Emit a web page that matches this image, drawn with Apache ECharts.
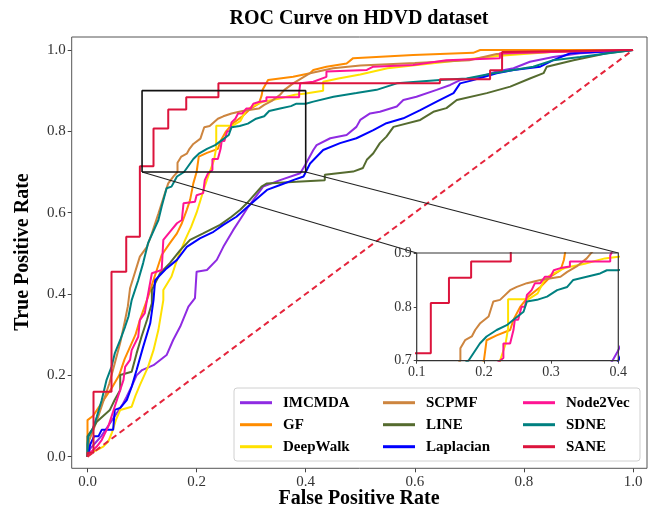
<!DOCTYPE html>
<html><head><meta charset="utf-8">
<script src="https://cdn.jsdelivr.net/npm/echarts@6/dist/echarts.min.js"></script>
<style>html,body{margin:0;padding:0;background:#fff}#c{width:656px;height:516px}</style>
</head><body><div id="c"></div>
<script>
// ---------- data ----------
const seriesNames = ['IMCMDA','GF','DeepWalk','SCPMF','LINE','Laplacian','Node2Vec','SDNE','SANE'];
const insetXRange = [0.1, 0.4];
const insetYRange = [0.7, 0.9];
const chanceLine = [[0,0],[1,1]];

const IMCMDA = [[0,0],[0.005,0.02],[0.015,0.035],[0.025,0.05],[0.035,0.07],[0.045,0.09],[0.055,0.11],[0.065,0.13],[0.072,0.148],[0.08,0.17],[0.09,0.2],[0.1,0.213],[0.121,0.225],[0.145,0.25],[0.157,0.287],[0.17,0.32],[0.185,0.369],[0.197,0.39],[0.2,0.455],[0.219,0.459],[0.237,0.484],[0.249,0.516],[0.267,0.557],[0.283,0.59],[0.295,0.615],[0.322,0.664],[0.353,0.68],[0.39,0.697],[0.399,0.717],[0.414,0.754],[0.42,0.766],[0.445,0.783],[0.475,0.791],[0.493,0.811],[0.5,0.828],[0.518,0.844],[0.536,0.848],[0.567,0.861],[0.579,0.877],[0.603,0.885],[0.64,0.902],[0.665,0.914],[0.683,0.926],[0.72,0.934],[0.75,0.947],[0.781,0.955],[0.811,0.971],[0.854,0.983],[0.903,0.992],[1,1]];
const GF = [[0,0],[0,0.09],[0.01,0.1],[0.02,0.12],[0.03,0.14],[0.045,0.17],[0.058,0.2],[0.068,0.24],[0.078,0.27],[0.088,0.3],[0.096,0.336],[0.111,0.393],[0.127,0.459],[0.136,0.496],[0.151,0.525],[0.164,0.549],[0.173,0.574],[0.182,0.607],[0.188,0.631],[0.194,0.672],[0.2,0.7],[0.204,0.738],[0.219,0.747],[0.239,0.757],[0.244,0.776],[0.254,0.8],[0.266,0.819],[0.284,0.837],[0.299,0.856],[0.314,0.868],[0.319,0.887],[0.321,0.902],[0.331,0.926],[0.377,0.934],[0.408,0.943],[0.414,0.951],[0.438,0.959],[0.475,0.967],[0.487,0.98],[0.597,0.988],[0.707,0.993],[0.72,1],[1,1]];
const DeepWalk = [[0,0],[0.005,0.01],[0.015,0.015],[0.029,0.025],[0.038,0.037],[0.045,0.06],[0.052,0.09],[0.06,0.115],[0.081,0.123],[0.088,0.15],[0.096,0.176],[0.111,0.221],[0.121,0.262],[0.13,0.312],[0.139,0.385],[0.139,0.41],[0.154,0.443],[0.164,0.484],[0.179,0.533],[0.19,0.565],[0.2,0.6],[0.208,0.635],[0.215,0.665],[0.224,0.7],[0.232,0.73],[0.236,0.76],[0.236,0.814],[0.266,0.814],[0.28,0.825],[0.29,0.85],[0.3,0.86],[0.32,0.872],[0.35,0.88],[0.38,0.89],[0.4,0.893],[0.432,0.9],[0.432,0.922],[0.46,0.93],[0.5,0.94],[0.55,0.955],[0.65,0.97],[0.75,0.985],[0.85,0.995],[1,1]];
const SCPMF = [[0,0],[0.003,0.04],[0.012,0.07],[0.02,0.1],[0.03,0.14],[0.04,0.18],[0.05,0.23],[0.06,0.28],[0.068,0.33],[0.074,0.37],[0.078,0.414],[0.096,0.492],[0.109,0.516],[0.118,0.549],[0.13,0.598],[0.142,0.648],[0.148,0.672],[0.158,0.69],[0.165,0.7],[0.165,0.723],[0.172,0.738],[0.182,0.745],[0.187,0.757],[0.194,0.769],[0.207,0.782],[0.214,0.81],[0.224,0.813],[0.239,0.831],[0.249,0.837],[0.264,0.844],[0.284,0.85],[0.314,0.856],[0.324,0.865],[0.338,0.875],[0.353,0.89],[0.361,0.902],[0.377,0.918],[0.408,0.943],[0.45,0.955],[0.5,0.962],[0.6,0.968],[0.7,0.975],[0.75,0.99],[0.85,0.995],[1,1]];
const LINE = [[0,0],[0,0.05],[0.01,0.07],[0.017,0.086],[0.041,0.115],[0.05,0.14],[0.06,0.164],[0.06,0.201],[0.081,0.209],[0.09,0.254],[0.099,0.295],[0.109,0.336],[0.118,0.377],[0.118,0.41],[0.133,0.451],[0.151,0.476],[0.17,0.508],[0.188,0.533],[0.212,0.549],[0.243,0.57],[0.264,0.59],[0.28,0.607],[0.292,0.623],[0.319,0.664],[0.329,0.672],[0.383,0.676],[0.435,0.68],[0.435,0.693],[0.487,0.701],[0.505,0.71],[0.512,0.73],[0.524,0.746],[0.536,0.771],[0.548,0.787],[0.561,0.811],[0.61,0.828],[0.634,0.848],[0.658,0.857],[0.677,0.877],[0.732,0.894],[0.775,0.91],[0.811,0.93],[0.836,0.943],[0.842,0.959],[0.891,0.975],[0.952,0.992],[1,1]];
const Laplacian = [[0,0],[0.005,0.03],[0.012,0.05],[0.02,0.05],[0.026,0.066],[0.047,0.066],[0.05,0.115],[0.06,0.12],[0.072,0.139],[0.081,0.172],[0.09,0.213],[0.102,0.27],[0.115,0.328],[0.121,0.385],[0.124,0.434],[0.145,0.463],[0.164,0.484],[0.182,0.516],[0.206,0.537],[0.231,0.553],[0.249,0.57],[0.273,0.59],[0.304,0.627],[0.329,0.656],[0.353,0.668],[0.377,0.68],[0.396,0.689],[0.408,0.721],[0.432,0.754],[0.463,0.771],[0.493,0.783],[0.524,0.803],[0.548,0.82],[0.579,0.832],[0.61,0.852],[0.64,0.873],[0.671,0.894],[0.683,0.918],[0.707,0.926],[0.75,0.943],[0.781,0.951],[0.83,0.959],[0.854,0.975],[0.885,0.992],[1,1]];
const Node2Vec = [[0,0],[0.005,0.01],[0.017,0.025],[0.026,0.041],[0.038,0.074],[0.047,0.111],[0.056,0.148],[0.066,0.189],[0.069,0.221],[0.078,0.238],[0.081,0.262],[0.093,0.295],[0.096,0.336],[0.105,0.353],[0.109,0.385],[0.118,0.451],[0.136,0.459],[0.139,0.533],[0.151,0.553],[0.164,0.574],[0.173,0.582],[0.176,0.623],[0.197,0.627],[0.2,0.643],[0.212,0.648],[0.215,0.68],[0.221,0.697],[0.229,0.705],[0.229,0.732],[0.239,0.732],[0.244,0.757],[0.246,0.776],[0.251,0.776],[0.256,0.8],[0.261,0.8],[0.264,0.822],[0.271,0.831],[0.276,0.844],[0.284,0.844],[0.291,0.856],[0.299,0.856],[0.304,0.868],[0.314,0.872],[0.328,0.875],[0.328,0.884],[0.388,0.884],[0.388,0.896],[0.39,0.9],[0.39,0.918],[0.414,0.922],[0.438,0.934],[0.438,0.947],[0.512,0.951],[0.524,0.959],[0.597,0.963],[0.658,0.975],[0.756,0.98],[0.756,0.992],[1,1]];
const SDNE = [[0,0],[0,0.03],[0.0015,0.049],[0.01,0.07],[0.017,0.098],[0.026,0.139],[0.035,0.189],[0.044,0.221],[0.05,0.254],[0.06,0.287],[0.069,0.32],[0.075,0.344],[0.081,0.385],[0.093,0.434],[0.102,0.476],[0.111,0.525],[0.13,0.582],[0.136,0.615],[0.145,0.66],[0.154,0.664],[0.164,0.689],[0.177,0.7],[0.194,0.732],[0.204,0.745],[0.219,0.757],[0.234,0.766],[0.244,0.776],[0.259,0.791],[0.264,0.81],[0.279,0.813],[0.294,0.819],[0.309,0.831],[0.324,0.837],[0.333,0.85],[0.353,0.856],[0.373,0.862],[0.383,0.868],[0.4,0.868],[0.414,0.873],[0.451,0.885],[0.493,0.894],[0.53,0.902],[0.567,0.918],[0.646,0.926],[0.695,0.93],[0.744,0.943],[0.817,0.959],[0.854,0.975],[0.903,0.983],[1,1]];
const SANE = [[0,0],[0,0.01],[0.011,0.01],[0.011,0.16],[0.044,0.16],[0.044,0.455],[0.071,0.455],[0.071,0.541],[0.096,0.541],[0.096,0.714],[0.121,0.714],[0.121,0.807],[0.148,0.807],[0.148,0.854],[0.181,0.854],[0.181,0.884],[0.24,0.884],[0.24,0.918],[0.646,0.918],[0.646,0.928],[0.738,0.928],[0.738,0.95],[0.76,0.95],[0.76,0.995],[1,1]];

const curves = {IMCMDA, GF, DeepWalk, SCPMF, LINE, Laplacian, Node2Vec, SDNE, SANE};

// ---------- styles / layout ----------
const colors = ['#8f2be2','#ff8c00','#ffe100','#cd853f','#556b2f','#0000ff','#ff1493','#008080','#dc143c'];
const SERIF = '"Liberation Serif","Times New Roman",serif';
const G0 = {left:87.5, top:50, right:23, bottom:59.3};
const FRAME = {x:71.7, y:37, w:575.3, h:431.3};
const G1 = {left:416.7, top:253, width:201.6, height:107.7};

const chart = echarts.init(document.getElementById('c'), null, {renderer:'canvas'});

function curveSeries(gi) {
  return seriesNames.map((n, i) => ({
    name: n, type: 'line', xAxisIndex: gi, yAxisIndex: gi,
    data: curves[n], symbol: 'none', showSymbol: false,
    lineStyle: {width: 2, color: colors[i]}, itemStyle: {color: colors[i]},
    z: gi ? 6 : 2, clip: gi ? true : false, silent: true
  }));
}
const box = [[insetXRange[0],insetYRange[0]],[insetXRange[1],insetYRange[0]],[insetXRange[1],insetYRange[1]],[insetXRange[0],insetYRange[1]],[insetXRange[0],insetYRange[0]]];

const series = [
  ...curveSeries(0),
  {type:'line', xAxisIndex:0, yAxisIndex:0, data: chanceLine, symbol:'none', lineStyle:{width:2, type:[6,4], color:'#e5243b'}, z:2, silent:true, clip:false},
  {type:'line', xAxisIndex:0, yAxisIndex:0, data: box, symbol:'none', lineStyle:{width:1.6, color:'#111'}, z:4, silent:true, clip:false},
  ...curveSeries(1)
];

const labelStyle = {fontFamily: SERIF, fontSize: 15, color: '#333', formatter: v => v.toFixed(1)};
const insetLabel = {fontFamily: SERIF, fontSize: 14, color: '#333', formatter: v => v.toFixed(1)};

function legendFor(names, left) {
  return {
    data: names, orient: 'vertical', left: left, top: 394.7, padding: 0,
    icon: 'rect', itemWidth: 32, itemHeight: 3, itemGap: 6,
    textStyle: {fontFamily: SERIF, fontSize: 15, fontWeight: 'bold', color: '#000', lineHeight: 16, padding: [0,0,0,6]},
    selectedMode: false, z: 5
  };
}

chart.setOption({
  animation: false,
  backgroundColor: '#fff',
  grid: [
    {left: G0.left, top: G0.top, right: G0.right, bottom: G0.bottom},
    {left: G1.left, top: G1.top, width: G1.width, height: G1.height}
  ],
  xAxis: [
    {type:'value', gridIndex:0, min:0, max:1, interval:0.2, offset: 11.6,
     axisLine:{show:false, onZero:false}, splitLine:{show:false},
     axisTick:{show:true, length:4, lineStyle:{color:'#444'}}, axisLabel:{...labelStyle, margin:6}},
    {type:'value', gridIndex:1, min:insetXRange[0], max:insetXRange[1], interval:0.1, z:7,
     axisLine:{show:false, onZero:false}, splitLine:{show:false},
     axisTick:{show:true, length:3, lineStyle:{color:'#444'}}, axisLabel:{...insetLabel, margin:5}}
  ],
  yAxis: [
    {type:'value', gridIndex:0, min:0, max:1, interval:0.2, offset: 15.8,
     axisLine:{show:false, onZero:false}, splitLine:{show:false},
     axisTick:{show:true, length:4, lineStyle:{color:'#444'}}, axisLabel:{...labelStyle, margin:6}},
    {type:'value', gridIndex:1, min:insetYRange[0], max:insetYRange[1], interval:0.1, z:7,
     axisLine:{show:false, onZero:false}, splitLine:{show:false},
     axisTick:{show:true, length:3, lineStyle:{color:'#444'}}, axisLabel:{...insetLabel, margin:5}}
  ],
  legend: [
    legendFor(seriesNames.slice(0,3), 240),
    legendFor(seriesNames.slice(3,6), 383),
    legendFor(seriesNames.slice(6,9), 523)
  ],
  series: series
});

// connectors from the zoom box to the inset
const pBL = chart.convertToPixel({gridIndex:0}, [insetXRange[0], insetYRange[0]]);
const pBR = chart.convertToPixel({gridIndex:0}, [insetXRange[1], insetYRange[0]]);
const qTL = chart.convertToPixel({gridIndex:1}, [insetXRange[0], insetYRange[1]]);
const qTR = chart.convertToPixel({gridIndex:1}, [insetXRange[1], insetYRange[1]]);
const qBR = chart.convertToPixel({gridIndex:1}, [insetXRange[1], insetYRange[0]]);

chart.setOption({
  graphic: [
    {type:'text', x:359, y:19, z:10, style:{text:'ROC Curve on HDVD dataset', font:'bold 20px ' + SERIF, fill:'#000', align:'center', verticalAlign:'middle'}},
    {type:'text', x:359, y:499, z:10, style:{text:'False Positive Rate', font:'bold 20px ' + SERIF, fill:'#000', align:'center', verticalAlign:'middle'}},
    {type:'text', x:23, y:252, rotation:Math.PI/2, z:10, style:{text:'True Positive Rate', font:'bold 20px ' + SERIF, fill:'#000', align:'center', verticalAlign:'middle'}},
    {type:'rect', z:1, shape:{x:FRAME.x, y:FRAME.y, width:FRAME.w, height:FRAME.h}, style:{fill:'none', stroke:'#555', lineWidth:1}},
    {type:'rect', z:3, shape:{x:234, y:388, width:406, height:73, r:3}, style:{fill:'rgba(255,255,255,0.85)', stroke:'#d0d0d0', lineWidth:1}},
    {type:'line', z:4, shape:{x1:pBL[0], y1:pBL[1], x2:qTL[0], y2:qTL[1]}, style:{stroke:'#222', lineWidth:1.2}},
    {type:'line', z:4, shape:{x1:pBR[0], y1:pBR[1], x2:qTR[0], y2:qTR[1]}, style:{stroke:'#222', lineWidth:1.2}},
    {type:'rect', z:5, shape:{x:qTL[0], y:qTL[1], width:qTR[0]-qTL[0], height:qBR[1]-qTR[1]}, style:{fill:'#fff', stroke:null}},
    {type:'rect', z:8, shape:{x:qTL[0], y:qTL[1], width:qTR[0]-qTL[0], height:qBR[1]-qTR[1]}, style:{fill:'none', stroke:'#333', lineWidth:1.2}}
  ]
});
</script>
</body></html>
